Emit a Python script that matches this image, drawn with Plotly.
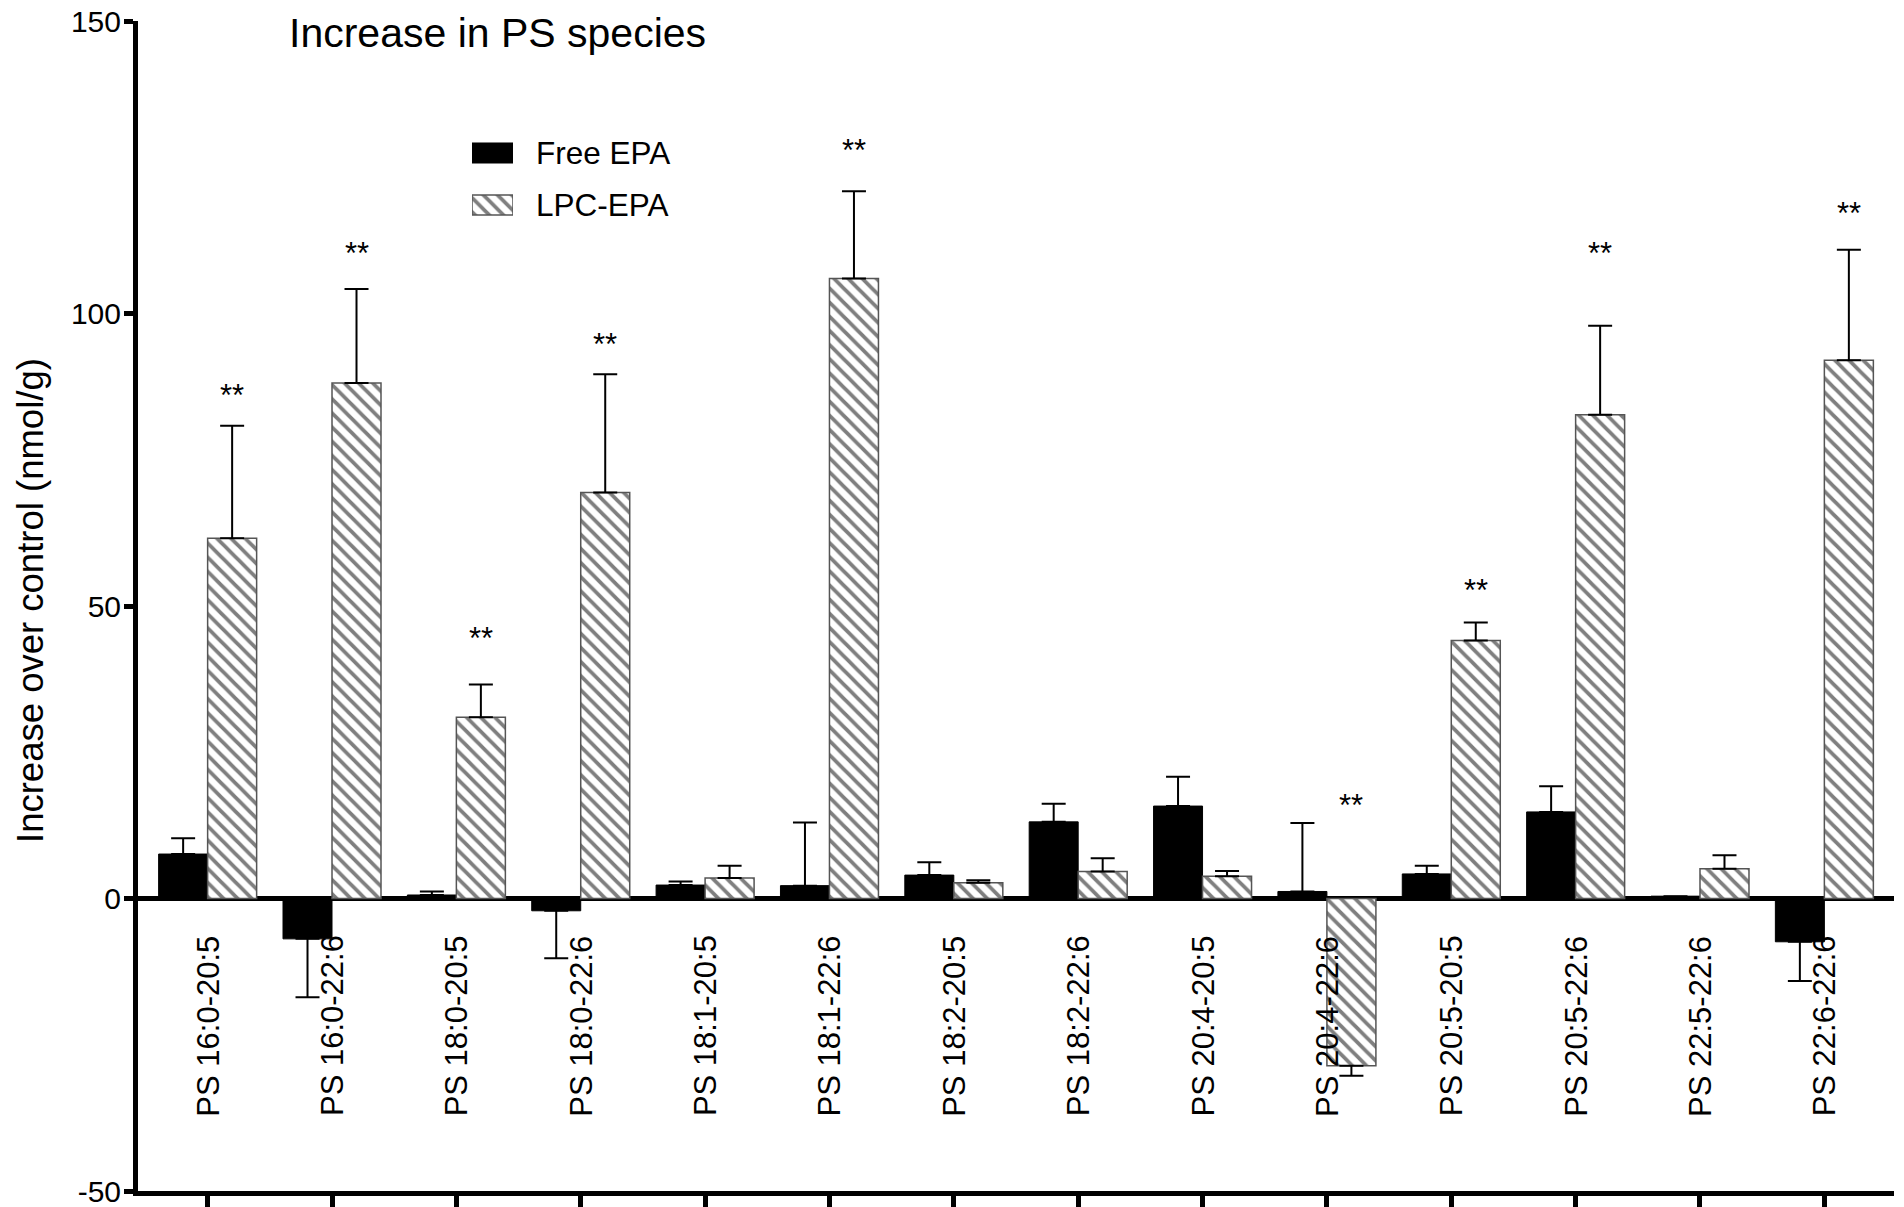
import plotly.graph_objects as go

# ---------------- data ----------------
categories = ["PS 16:0-20:5", "PS 16:0-22:6", "PS 18:0-20:5", "PS 18:0-22:6",
              "PS 18:1-20:5", "PS 18:1-22:6", "PS 18:2-20:5", "PS 18:2-22:6",
              "PS 20:4-20:5", "PS 20:4-22:6", "PS 20:5-20:5", "PS 20:5-22:6",
              "PS 22:5-22:6", "PS 22:6-22:6"]
free_epa = [7.6, -6.9, 0.6, -2.1, 2.3, 2.2, 4.0, 13.1, 15.8, 1.2, 4.2, 14.8, 0.4, -7.4]
free_err = [2.7, 10.0, 0.6, 8.1, 0.6, 10.8, 2.2, 3.1, 5.0, 11.7, 1.4, 4.4, 0.0, 6.7]
lpc_epa = [61.6, 88.1, 31.0, 69.4, 3.5, 106.0, 2.7, 4.6, 3.8, -28.6, 44.1, 82.7, 5.1, 92.0]
lpc_err = [19.2, 16.1, 5.6, 20.2, 2.1, 14.9, 0.4, 2.3, 0.9, 1.7, 3.1, 15.2, 2.3, 18.9]
sig_marks = ["**", "**", "**", "**", "", "**", "", "", "", "**", "**", "**", "", "**"]
sig_heights = [87.0, 111.3, 45.4, 95.8, None, 128.9, None, None, None, 17.0, 53.6, 111.3, None, 118.2]
y_ticks = [-50, 0, 50, 100, 150]
series_names = ["Free EPA", "LPC-EPA"]

# ---------------- geometry helpers ----------------
W, H = 1904, 1207
OFF = 0  # page body margin removed below via post_script
L, R, T, B = 138 - OFF, 1894 - OFF, 21 - OFF, 1191 - OFF
FONT = "Liberation Sans, Arial, sans-serif"


def px_x(px):
    return (px - OFF - L) / (R - L)


def px_y(py):
    return (B - (py - OFF)) / (B - T)


def split_err(vals, errs):
    up = [e if v >= 0 else 0 for v, e in zip(vals, errs)]
    dn = [e if v < 0 else 0 for v, e in zip(vals, errs)]
    return up, dn


BARGAP = 0.212
hatch = dict(shape="\\", fgcolor="black", bgcolor="white", size=10, solidity=0.38)

fig = go.Figure()

fu, fd = split_err(free_epa, free_err)
lu, ld = split_err(lpc_epa, lpc_err)

fig.add_trace(go.Bar(
    x=categories, y=free_epa, name=series_names[0],
    marker=dict(color="black", line=dict(color="black", width=1)),
    error_y=dict(type="data", symmetric=False, array=fu, arrayminus=fd,
                 color="black", thickness=2, width=12),
    showlegend=False,
))
fig.add_trace(go.Bar(
    x=categories, y=lpc_epa, name=series_names[1],
    marker=dict(color="white", pattern=hatch, line=dict(color="#555555", width=1.5)),
    error_y=dict(type="data", symmetric=False, array=lu, arrayminus=ld,
                 color="black", thickness=2, width=12),
    showlegend=False,
))

# legend swatches drawn as bars on a small auxiliary axis
fig.add_trace(go.Bar(
    x=[1], y=[1], base=0, orientation="h", width=0.385,
    marker=dict(color="black", line=dict(color="black", width=1)),
    xaxis="x2", yaxis="y2", showlegend=False, hoverinfo="skip",
))
fig.add_trace(go.Bar(
    x=[1], y=[0], base=0, orientation="h", width=0.385,
    marker=dict(color="white", pattern=hatch, line=dict(color="#555555", width=1.5)),
    xaxis="x2", yaxis="y2", showlegend=False, hoverinfo="skip",
))

annotations = []
# category labels, rotated, just below the zero line
for c in categories:
    annotations.append(dict(
        x=c, y=0, xref="x", yref="y", text=c, showarrow=False,
        textangle=-90, xanchor="center", yanchor="top", yshift=-35,
        font=dict(family=FONT, size=31, color="black"),
    ))
# significance stars above the LPC-EPA bars
lpc_shift = (1 - BARGAP) / 4 * (R - L) / 14.12
for c, m, h in zip(categories, sig_marks, sig_heights):
    if m:
        annotations.append(dict(
            x=c, y=h, xref="x", yref="y", text=m, showarrow=False,
            xanchor="center", yanchor="middle", xshift=lpc_shift, yshift=-6,
            font=dict(family=FONT, size=31, color="black"),
        ))
# title
annotations.append(dict(
    x=px_x(287), y=px_y(33), xref="paper", yref="paper", text="Increase in PS species",
    showarrow=False, xanchor="left", yanchor="middle",
    font=dict(family=FONT, size=41, color="black"),
))
# y axis title
annotations.append(dict(
    x=px_x(30), y=px_y(601), xref="paper", yref="paper",
    text="Increase over control (nmol/g)", showarrow=False, textangle=-90,
    xanchor="center", yanchor="middle",
    font=dict(family=FONT, size=36.5, color="black"),
))
# legend labels
for name, py in zip(series_names, [153, 205]):
    annotations.append(dict(
        x=px_x(534), y=px_y(py), xref="paper", yref="paper", text=name,
        showarrow=False, xanchor="left", yanchor="middle",
        font=dict(family=FONT, size=31.5, color="black"),
    ))

fig.update_layout(
    width=W, height=H,
    margin=dict(l=L, r=W - R, t=T, b=H - B, pad=0),
    paper_bgcolor="white", plot_bgcolor="white",
    barmode="group", bargap=BARGAP, bargroupgap=0,
    font=dict(family=FONT, size=30, color="black"),
    showlegend=False,
    xaxis=dict(
        type="category", categoryorder="array", categoryarray=categories,
        range=[-0.56, 13.56], showticklabels=False,
        showline=True, linecolor="black", linewidth=5,
        ticks="outside", ticklen=11, tickwidth=5, tickcolor="black",
        showgrid=False, zeroline=False, fixedrange=True, automargin=False,
    ),
    yaxis=dict(
        range=[-50, 150], tickvals=y_ticks, ticktext=[str(v) for v in y_ticks],
        showline=True, linecolor="black", linewidth=5,
        ticks="outside", ticklen=9, tickwidth=5, tickcolor="black",
        tickfont=dict(family=FONT, size=30, color="black"),
        ticklabeloverflow="allow", ticklabelstandoff=-3,
        showgrid=False, zeroline=True, zerolinecolor="black", zerolinewidth=5,
        fixedrange=True, automargin=False,
    ),
    xaxis2=dict(
        domain=[px_x(472), px_x(513)], range=[0, 1], anchor="y2",
        showline=False, showticklabels=False, ticks="", showgrid=False,
        zeroline=False, fixedrange=True,
    ),
    yaxis2=dict(
        domain=[px_y(231), px_y(127)], range=[-0.5, 1.5], anchor="x2",
        showline=False, showticklabels=False, ticks="", showgrid=False,
        zeroline=False, fixedrange=True,
    ),
    annotations=annotations,
)

fig.write_html(
    "out.html",
    config={"displayModeBar": False, "staticPlot": True},
    post_script="document.body.style.margin='0px'; document.body.style.overflow='hidden';",
)
